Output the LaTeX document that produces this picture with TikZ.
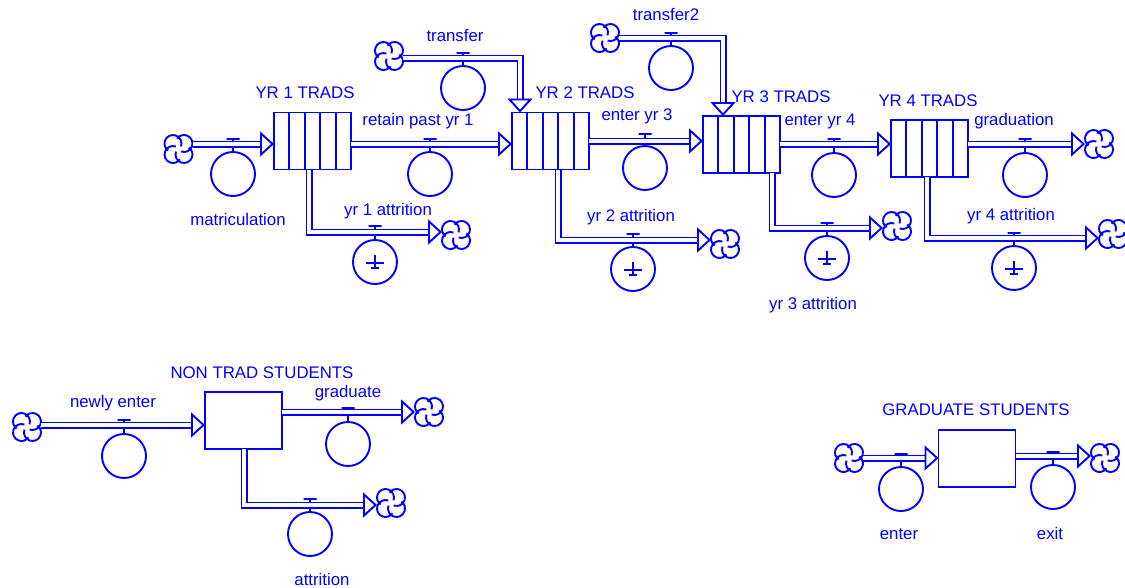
\documentclass[tikz,border=0pt]{standalone}
\usepackage{fontspec}
\setmainfont{Liberation Sans}
\usetikzlibrary{arrows.meta}

\begin{document}
\begin{tikzpicture}[
  x=1pt, y=-1pt,
  line width=1.9pt, draw=blue,
  txt/.style={text=blue, inner sep=0pt, font=\fontsize{16.8}{19}\selectfont},
  stock/.style={draw=blue, minimum width=77pt, minimum height=57pt, inner sep=0pt, outer sep=0pt},
  stockbars/.style={stock, path picture={
    \draw[blue] (path picture bounding box.north west) ++(15.4,0) -- ++(0,60) ++(15.4,-60) -- ++(0,60)
      ++(15.4,-60) -- ++(0,60) ++(15.4,-60) -- ++(0,60);}},
  rate/.style={draw=blue, circle, minimum size=44pt, inner sep=0pt, outer sep=0pt},
  leak/.style={rate, path picture={
    \draw[blue] (path picture bounding box.center) ++(-9,1) -- ++(18,0) ++(-9,-8) -- ++(0,14) ++(-4,-1) -- ++(8,0);}},
  valve/.style={draw=blue, minimum width=13pt, minimum height=0pt, inner sep=0pt, outer sep=0pt},
  stem/.style={draw=blue},
  flow/.style={draw=blue, double=white, double distance=3.2pt, line width=1.9pt,
    -{Triangle[open, fill=white, length=14pt, width=25pt, line width=1.9pt]}},
  cloudy/.style={minimum size=31pt, inner sep=0pt, outer sep=-1.5pt, path picture={
    \begin{scope}[shift={(path picture bounding box.center)}]
      \draw[blue, line width=1.9pt]
        (-2.49,2.59) arc[start angle=200, end angle=-55, radius=8.5]
        (-2.59,-2.49) arc[start angle=290, end angle=35, radius=8.5]
        (2.49,-2.59) arc[start angle=20, end angle=-235, radius=8.5]
        (2.59,2.49) arc[start angle=110, end angle=-145, radius=8.5];
    \end{scope}}}
]
\useasboundingbox (0,0) rectangle (1125,587);

% year 1
\node[stockbars] (yr1) at (312.5,141) {};
\node[txt] (yr1lab) at (305,93) {YR 1 TRADS};
\node[cloudy] (cmatric) at (178.5,149) {};
\node[rate] (rmatric) at (233,174) {};
\node[valve] (vmatric) at (233,139) {};
\coordinate (fmatric) at (233,144);
\node[txt] (lmatric) at (238,219) {matriculation};
\draw[stem] (vmatric) -- (rmatric);
\draw[flow] (cmatric.east |- fmatric) -- (yr1.west |- fmatric);

\node[cloudy] (cattr1) at (456,235) {};
\node[leak] (rattr1) at (375,262) {};
\node[valve] (vattr1) at (375,226) {};
\coordinate (fattr1) at (375,232);
\coordinate (dattr1) at (309,170);
\node[txt] (lattr1) at (388,211) {yr 1 attrition};
\draw[stem] (vattr1) -- (rattr1);
\draw[flow] (dattr1) |- (cattr1.west |- fattr1);

% year 2
\node[stockbars] (yr2) at (550.5,141) {};
\node[txt] (yr2lab) at (585,93) {YR 2 TRADS};
\node[rate] (rretain) at (430,174) {};
\node[valve] (vretain) at (430,139) {};
\coordinate (fretain) at (430,144);
\node[txt] (lretain) at (418,121) {retain past yr 1};
\draw[stem] (vretain) -- (rretain);
\draw[flow] (yr1.east |- fretain) -- (yr2.west |- fretain);

\node[cloudy] (ctrans) at (389,56) {};
\node[rate] (rtrans) at (463,88) {};
\node[valve] (vtrans) at (463,53) {};
\coordinate (ftrans) at (463,58);
\coordinate (dtrans) at (520,112.5);
\node[txt] (ltrans) at (455,35) {transfer};
\draw[stem] (vtrans) -- (rtrans);
\draw[flow] (ctrans.east |- ftrans) -| (dtrans);

\node[cloudy] (cattr2) at (725,244) {};
\node[leak] (rattr2) at (633,269) {};
\node[valve] (vattr2) at (633,234) {};
\coordinate (fattr2) at (633,240);
\coordinate (dattr2) at (558,170);
\node[txt] (lattr2) at (631,217) {yr 2 attrition};
\draw[stem] (vattr2) -- (rattr2);
\draw[flow] (dattr2) |- (cattr2.west |- fattr2);

% year 3
\node[stockbars] (yr3) at (741.5,144.5) {};
\node[txt] (yr3lab) at (781,97) {YR 3 TRADS};
\node[rate] (renter3) at (645,168) {};
\node[valve] (venter3) at (645,134) {};
\coordinate (fenter3) at (645,141);
\node[txt] (lenter3) at (637,116) {enter yr 3};
\draw[stem] (venter3) -- (renter3);
\draw[flow] (yr2.east |- fenter3) -- (yr3.west |- fenter3);

\node[cloudy] (ctrans2) at (605,38) {};
\node[rate] (rtrans2) at (671,68) {};
\node[valve] (vtrans2) at (671,33) {};
\coordinate (ftrans2) at (671,38);
\coordinate (dtrans2) at (723,116);
\node[txt] (ltrans2) at (666,15) {transfer2};
\draw[stem] (vtrans2) -- (rtrans2);
\draw[flow] (ctrans2.east |- ftrans2) -| (dtrans2);

\node[cloudy] (cattr3) at (897,226) {};
\node[leak] (rattr3) at (827,258) {};
\node[valve] (vattr3) at (827,223) {};
\coordinate (fattr3) at (827,228);
\coordinate (dattr3) at (772,173);
\node[txt] (lattr3) at (813,305) {yr 3 attrition};
\draw[stem] (vattr3) -- (rattr3);
\draw[flow] (dattr3) |- (cattr3.west |- fattr3);

% year 4
\node[stockbars] (yr4) at (929.5,148.5) {};
\node[txt] (yr4lab) at (928,101) {YR 4 TRADS};
\node[rate] (renter4) at (834,175) {};
\node[valve] (venter4) at (834,139) {};
\coordinate (fenter4) at (834,144);
\node[txt] (lenter4) at (820,121) {enter yr 4};
\draw[stem] (venter4) -- (renter4);
\draw[flow] (yr3.east |- fenter4) -- (yr4.west |- fenter4);

\node[cloudy] (cgradn) at (1099,144) {};
\node[rate] (rgradn) at (1025,175) {};
\node[valve] (vgradn) at (1025,139) {};
\coordinate (fgradn) at (1025,144);
\node[txt] (lgradn) at (1014,121) {graduation};
\draw[stem] (vgradn) -- (rgradn);
\draw[flow] (yr4.east |- fgradn) -- (cgradn.west |- fgradn);

\node[cloudy] (cattr4) at (1113,234) {};
\node[leak] (rattr4) at (1014,268) {};
\node[valve] (vattr4) at (1014,233) {};
\coordinate (fattr4) at (1014,238);
\coordinate (dattr4) at (927,177);
\node[txt] (lattr4) at (1011,216) {yr 4 attrition};
\draw[stem] (vattr4) -- (rattr4);
\draw[flow] (dattr4) |- (cattr4.west |- fattr4);

% non trads
\node[stock] (nontrad) at (243.5,420.5) {};
\node[txt] (nontradlab) at (262,373) {NON TRAD STUDENTS};
\node[cloudy] (cnewly) at (27,427) {};
\node[rate] (rnewly) at (124,456) {};
\node[valve] (vnewly) at (124,420) {};
\coordinate (fnewly) at (124,425);
\node[txt] (lnewly) at (113,403) {newly enter};
\draw[stem] (vnewly) -- (rnewly);
\draw[flow] (cnewly.east |- fnewly) -- (nontrad.west |- fnewly);

\node[cloudy] (cgrad) at (429,412) {};
\node[rate] (rgrad) at (348,444) {};
\node[valve] (vgrad) at (348,408) {};
\coordinate (fgrad) at (348,412);
\node[txt] (lgrad) at (348,393) {graduate};
\draw[stem] (vgrad) -- (rgrad);
\draw[flow] (nontrad.east |- fgrad) -- (cgrad.west |- fgrad);

\node[cloudy] (cattr) at (391,503) {};
\node[rate] (rattr) at (310,534) {};
\node[valve] (vattr) at (310,499) {};
\coordinate (fattr) at (310,505);
\coordinate (dattr) at (244,449);
\node[txt] (lattr) at (322,579) {attrition};
\draw[stem] (vattr) -- (rattr);
\draw[flow] (dattr) |- (cattr.west |- fattr);

% graduate students
\node[stock] (gradst) at (977,458.5) {};
\node[txt] (gradstlab) at (976,410) {GRADUATE STUDENTS};
\node[cloudy] (centr) at (849,458) {};
\node[rate] (rentr) at (901,489) {};
\node[valve] (ventr) at (901,454) {};
\coordinate (fentr) at (901,458);
\node[txt] (lentr) at (899,534) {enter};
\draw[stem] (ventr) -- (rentr);
\draw[flow] (centr.east |- fentr) -- (gradst.west |- fentr);

\node[cloudy] (cexit) at (1105,458) {};
\node[rate] (rexit) at (1053,487) {};
\node[valve] (vexit) at (1053,452) {};
\coordinate (fexit) at (1053,456);
\node[txt] (lexit) at (1050,533) {exit};
\draw[stem] (vexit) -- (rexit);
\draw[flow] (gradst.east |- fexit) -- (cexit.west |- fexit);
\end{tikzpicture}
\end{document}
